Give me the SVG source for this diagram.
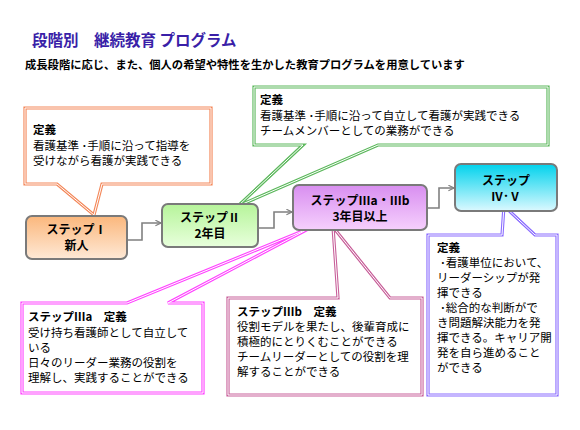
<svg xmlns="http://www.w3.org/2000/svg" width="580" height="430" viewBox="0 0 580 430">
<defs>
<linearGradient id="gOrange" x1="0" y1="0" x2="0" y2="1"><stop offset="0" stop-color="#fbb77c"/><stop offset="1" stop-color="#fee9d6"/></linearGradient>
<linearGradient id="gGreen" x1="0" y1="0" x2="0" y2="1"><stop offset="0" stop-color="#b6f49a"/><stop offset="1" stop-color="#e8ffdc"/></linearGradient>
<linearGradient id="gPink" x1="0" y1="0" x2="0" y2="1"><stop offset="0" stop-color="#d88ef0"/><stop offset="1" stop-color="#f6d0fd"/></linearGradient>
<linearGradient id="gCyan" x1="0" y1="0" x2="0" y2="1"><stop offset="0" stop-color="#00d2ec"/><stop offset="1" stop-color="#dcf9ff"/></linearGradient>
<marker id="arr" viewBox="0 0 10 10" refX="9" refY="5" markerWidth="7" markerHeight="7" markerUnits="userSpaceOnUse" orient="auto">
<path d="M1,1 L9,5 L1,9" fill="none" stroke="#808080" stroke-width="1.6"/>
</marker>
</defs>
<style>
text{font-family:"Noto Sans CJK JP","Noto Sans",sans-serif;fill:#000}
.title{font-size:15.5px;font-weight:bold;fill:#3a1fa8}
.sub{font-size:11.3px;font-weight:bold}
.step{font-size:12px;font-weight:bold;text-anchor:middle}
.t{font-size:11.5px}
.b{font-weight:bold}
.box{stroke:#7a7a7a;stroke-width:2}
.co{fill:#fff;stroke-width:3.2;stroke-linejoin:miter}
.coi{fill:none;stroke:#fff;stroke-width:1}
.conn{fill:none;stroke:#808080;stroke-width:1.6}
</style>
<rect width="580" height="430" fill="#fff"/>
<text class="title" x="32" y="46">段階別　継続教育 プログラム</text>
<text class="sub" x="25" y="69">成長段階に応じ、また、個人の希望や特性を生かした教育プログラムを用意しています</text>

<g id="callout-1">
<path class="co" stroke="#f4885a" d="M25,108 H211 V184 H102 L94,215 L57,184 H25 Z"/>
<path class="coi" d="M25,108 H211 V184 H102 L94,215 L57,184 H25 Z"/>
<text class="t" x="33" y="134"><tspan class="b">定義</tspan><tspan x="33" y="149.5">看護基準 ･手順に沿って指導を</tspan><tspan x="33" y="164.5">受けながら看護が実践できる</tspan></text>
</g>
<g id="callout-2">
<path class="co" stroke="#5cb85c" d="M254,87 H548 V145 H378 L238,206 L303,145 H254 Z"/>
<path class="coi" d="M254,87 H548 V145 H378 L238,206 L303,145 H254 Z"/>
<text class="t" x="260" y="104"><tspan class="b">定義</tspan><tspan x="260" y="119.5">看護基準 ･手順に沿って自立して看護が実践できる</tspan><tspan x="260" y="135">チームメンバーとしての業務ができる</tspan></text>
</g>
<g id="callout-3a">
<path class="co" stroke="#ff44ff" d="M22,303 H127 L310,228 L168,303 H203 V393 H22 Z"/>
<path class="coi" d="M22,303 H127 L310,228 L168,303 H203 V393 H22 Z"/>
<text class="t" x="28" y="321"><tspan class="b">ステップⅢa　定義</tspan><tspan x="28" y="336.5">受け持ち看護師として自立して</tspan><tspan x="28" y="351.5">いる</tspan><tspan x="28" y="366.5">日々のリーダー業務の役割を</tspan><tspan x="28" y="381.5">理解し、実践することができる</tspan></text>
</g>
<g id="callout-3b">
<path class="co" stroke="#c8609a" d="M228,298 H338 L333,227 L390,298 H422 V395 H228 Z"/>
<path class="coi" d="M228,298 H338 L333,227 L390,298 H422 V395 H228 Z"/>
<text class="t" x="237" y="316"><tspan class="b">ステップⅢb　定義</tspan><tspan x="237" y="331">役割モデルを果たし、後輩育成に</tspan><tspan x="237" y="346">積極的にとりくむことができる</tspan><tspan x="237" y="361">チームリーダーとしての役割を理</tspan><tspan x="237" y="376">解することができる</tspan></text>
</g>
<g id="callout-4">
<path class="co" stroke="#8a6cff" d="M428,235 H502 L504,206 L535,235 H557 V395 H428 Z"/>
<path class="coi" d="M428,235 H502 L504,206 L535,235 H557 V395 H428 Z"/>
<text class="t" x="437" y="252"><tspan class="b">定義</tspan><tspan x="440" y="267">･看護単位において、</tspan><tspan x="437" y="282">リーダーシップが発</tspan><tspan x="437" y="297">揮できる</tspan><tspan x="440" y="312">･総合的な判断がで</tspan><tspan x="437" y="327">き問題解決能力を発</tspan><tspan x="437" y="342">揮できる。キャリア開</tspan><tspan x="437" y="357">発を自ら進めること</tspan><tspan x="437" y="372">ができる</tspan></text>
</g>

<g id="connectors">
<path class="conn" marker-end="url(#arr)" d="M127,240 H142 V223 H161"/>
<path class="conn" marker-end="url(#arr)" d="M258,228 H274 V212 H292"/>
<path class="conn" marker-end="url(#arr)" d="M427,208 H439 V188 H454"/>
</g>

<g id="step1">
<rect class="box" x="26" y="216" width="101" height="43" rx="6" fill="url(#gOrange)"/>
<text class="step" x="76.5" y="234"><tspan x="76.5" y="234">ステップⅠ</tspan><tspan x="76.5" y="250">新人</tspan></text>
</g>
<g id="step2">
<rect class="box" x="162" y="204" width="96" height="43" rx="6" fill="url(#gGreen)"/>
<text class="step" x="210" y="222"><tspan x="210" y="222">ステップⅡ</tspan><tspan x="210" y="238">2年目</tspan></text>
</g>
<g id="step3">
<rect class="box" x="293" y="185" width="134" height="45" rx="6" fill="url(#gPink)"/>
<text class="step" x="360" y="205"><tspan x="360" y="205">ステップⅢa・Ⅲb</tspan><tspan x="360" y="221">3年目以上</tspan></text>
</g>
<g id="step4">
<rect class="box" x="455" y="164" width="102" height="47" rx="6" fill="url(#gCyan)"/>
<text class="step" x="506" y="185"><tspan x="506" y="185">ステップ</tspan><tspan x="506" y="201">Ⅳ･Ⅴ</tspan></text>
</g>
</svg>
